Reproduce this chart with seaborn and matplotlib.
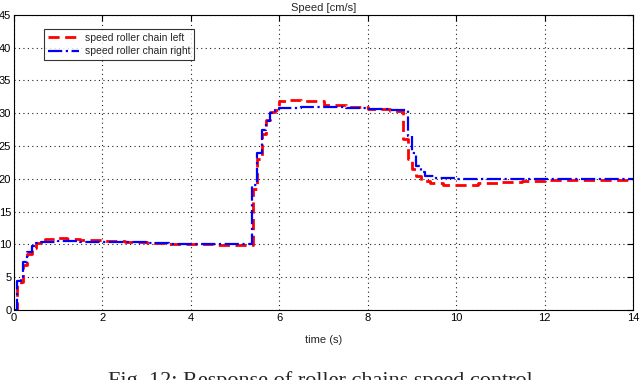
import numpy as np
import pandas as pd
import seaborn as sns
import matplotlib.pyplot as plt

# step samples (time in s, speed in cm/s)
t_left = [0, 0.07, 0.15, 0.2, 0.3, 0.4, 0.5, 0.6, 0.7, 0.8, 1.0, 1.2, 1.5, 2.0,
          2.5, 3.0, 3.5, 4.0, 4.5, 5.0, 5.4, 5.5, 5.6, 5.7, 5.8, 5.9, 6.0, 6.2,
          6.5, 7.0, 7.5, 8.0, 8.5, 8.8, 8.9, 9.0, 9.1, 9.2, 9.4, 9.7, 10.0,
          10.5, 11.0, 11.5, 12.0, 13.0, 14.0]
v_left = [0, 4.0, 4.3, 6.8, 8.5, 9.5, 10.2, 10.5, 10.8, 10.9, 11.0, 10.9, 10.7,
          10.5, 10.3, 10.2, 10.1, 10.0, 9.9, 9.9, 18.5, 23.0, 26.8, 29.0, 30.2,
          30.5, 31.8, 32.0, 31.8, 31.3, 30.9, 30.6, 30.4, 26.0, 23.0, 21.5,
          20.5, 19.7, 19.3, 19.0, 19.0, 19.3, 19.5, 19.7, 19.8, 19.9, 20.0]

t_right = [0, 0.06, 0.15, 0.2, 0.3, 0.4, 0.5, 0.6, 0.8, 1.0, 1.5, 2.0, 2.5, 3.0,
           3.5, 4.0, 4.5, 5.0, 5.38, 5.5, 5.6, 5.7, 5.8, 5.9, 6.0, 6.5, 7.0,
           7.5, 8.0, 8.5, 8.8, 8.9, 9.0, 9.1, 9.2, 9.3, 9.5, 10.0, 11.0, 12.0,
           13.0, 14.0]
v_right = [0, 4.5, 5.0, 7.3, 8.8, 9.7, 10.2, 10.3, 10.4, 10.5, 10.4, 10.3, 10.3,
           10.2, 10.1, 10.1, 10.1, 10.0, 19.0, 24.0, 27.5, 28.8, 30.0, 30.5,
           30.8, 31.0, 30.9, 30.8, 30.6, 30.5, 30.5, 26.5, 24.0, 22.0, 21.0,
           20.5, 20.2, 20.0, 20.0, 20.0, 20.0, 20.0]

sns.set_style("white")
plt.rcParams['font.family'] = ['Liberation Sans', 'DejaVu Sans']

fig = plt.figure(figsize=(6.4, 3.8), dpi=100)
ax = fig.add_axes([0.022, 0.184, 0.967, 0.777])

df_l = pd.DataFrame({'t': t_left, 'v': v_left})
df_r = pd.DataFrame({'t': t_right, 'v': v_right})

sns.lineplot(data=df_l, x='t', y='v', ax=ax, color='red', linestyle=(0, (4, 2)),
             linewidth=2.0, drawstyle='steps-post', label='speed roller chain left')
sns.lineplot(data=df_r, x='t', y='v', ax=ax, color='blue', linestyle='-.',
             linewidth=1.6, drawstyle='steps-post', label='speed roller chain right')

ax.set_xlim(0, 14)
ax.set_ylim(0, 45)
ax.set_xticks(np.arange(0, 15, 2))
ax.set_yticks(np.arange(0, 50, 5))
ax.grid(True, color='#222222', linestyle=(0, (1, 3)), linewidth=0.8)
ax.tick_params(direction='in', top=True, right=True, labelsize=8, length=4,
               width=0.8, colors='black', pad=2)
for s in ax.spines.values():
    s.set_color('black')
    s.set_linewidth(0.8)

ax.set_title('Speed [cm/s]', fontsize=8, pad=3)
ax.set_xlabel('time (s)', fontsize=8, labelpad=9)
ax.set_ylabel('')

leg = ax.legend(loc='upper left', bbox_to_anchor=(0.04, 0.97), fontsize=7.5,
                frameon=True, fancybox=False, handlelength=3.0, borderpad=0.4,
                labelspacing=0.3, handletextpad=0.5)
leg.get_frame().set_edgecolor('black')
leg.get_frame().set_linewidth(0.8)

fig.text(0.5, 0.024, 'Fig. 12: Response of roller chains speed control',
         ha='center', va='top', fontsize=16, family='Liberation Serif')

fig.savefig('out.png', dpi=100)
